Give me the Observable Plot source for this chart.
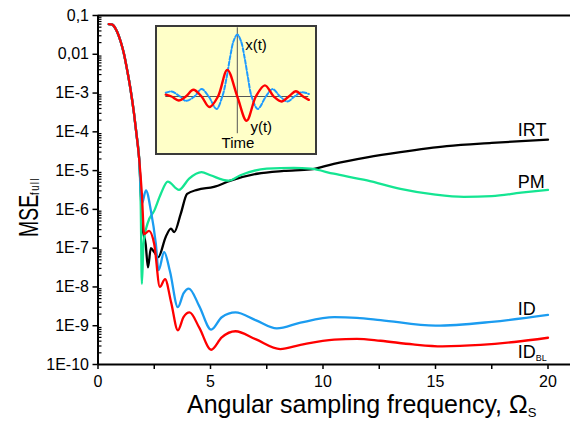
<!DOCTYPE html>
<html><head><meta charset="utf-8">
<script src="https://cdn.jsdelivr.net/npm/d3@7"></script>
<script src="https://cdn.jsdelivr.net/npm/@observablehq/plot@0.6"></script>
<style>
body{margin:0;background:#fff;}
#wrap{position:relative;width:570px;height:421px;font-family:"Liberation Sans",Arial,sans-serif;}
#inset{position:absolute;left:155px;top:25px;width:162px;height:130px;box-sizing:border-box;border:2px solid #3a3a3a;background:#ffffc8;}
#inset svg, #main svg{display:block;}
</style></head><body>
<div id="wrap"><div id="main"></div><div id="inset"></div></div>
<script>
// ---- Data (x: angular sampling frequency, y: MSE_full) ----
// steep common descent shared by all curves at low frequency
const commonX = [0.48, 0.60, 0.70, 0.85, 1.00, 1.15, 1.30, 1.45, 1.60, 1.72, 1.83];
const commonY = [6.0e-2, 5.9e-2, 5.4e-2, 3.8e-2, 2.2e-2, 1.05e-2, 3.8e-3, 1.2e-3, 3.0e-4, 7.9e-5, 2.0e-5];

const irtX = [1.98, 2.12, 2.22, 2.35, 2.50, 2.68, 3.01, 3.24, 3.39, 3.68, 3.96, 4.41, 5.15, 5.89, 7.07, 8.26, 9.44, 10.48, 11.96, 13.44, 15.5, 17.5, 20.0];
const irtY = [3.5e-7, 1.26e-7, 3.2e-8, 1.0e-7, 7.9e-8, 5.9e-8, 1.95e-7, 3.2e-7, 2.6e-7, 7.8e-7, 2.5e-6, 3.2e-6, 3.8e-6, 5.5e-6, 8.3e-6, 9.8e-6, 1.07e-5, 1.5e-5, 2.2e-5, 3.0e-5, 4.3e-5, 5.2e-5, 6.3e-5];

const pmX = [1.90, 1.95, 2.02, 2.20, 2.50, 2.79, 3.10, 3.60, 4.05, 4.60, 5.00, 5.80, 6.33, 7.50, 8.70, 9.44, 10.48, 11.96, 13.44, 15.0, 16.26, 17.5, 18.8, 20.0];
const pmY = [1.26e-6, 1.2e-8, 1.26e-7, 4.3e-7, 9.3e-7, 2.5e-6, 5.2e-6, 3.2e-6, 6.2e-6, 9.1e-6, 7.6e-6, 5.5e-6, 7.6e-6, 1.12e-5, 1.17e-5, 1.12e-5, 8.3e-6, 5.6e-6, 3.4e-6, 2.4e-6, 2.1e-6, 2.2e-6, 2.7e-6, 3.2e-6];

const idX = [1.95, 2.13, 2.35, 2.57, 2.69, 2.94, 3.20, 3.55, 3.80, 4.04, 4.50, 5.03, 5.50, 6.11, 7.00, 7.95, 9.00, 10.5, 11.5, 12.56, 15.0, 17.5, 20.0];
const idY = [1.4e-6, 3.1e-6, 9.3e-7, 1.3e-7, 2.7e-8, 7.9e-8, 2.5e-8, 3.0e-9, 6.8e-9, 9.1e-9, 3.2e-9, 7.9e-10, 1.66e-9, 2.2e-9, 1.4e-9, 8.5e-10, 1.2e-9, 1.66e-9, 1.6e-9, 1.4e-9, 1.0e-9, 1.26e-9, 1.9e-9];

const idblX = [1.95, 2.05, 2.27, 2.50, 2.75, 2.98, 3.25, 3.55, 3.80, 4.07, 4.50, 5.03, 5.50, 6.11, 7.00, 8.10, 9.00, 10.5, 11.5, 12.56, 14.0, 15.3, 17.0, 18.5, 20.0];
const idblY = [2.5e-6, 2.3e-7, 2.8e-7, 1.26e-7, 1.0e-8, 1.6e-8, 4.0e-9, 7.6e-10, 1.66e-9, 2.2e-9, 8.9e-10, 2.4e-10, 5.0e-10, 7.2e-10, 4.5e-10, 2.5e-10, 3.2e-10, 4.4e-10, 4.6e-10, 4.1e-10, 3.3e-10, 2.95e-10, 3.2e-10, 3.8e-10, 4.9e-10];

// series labels (placed at the right end of each curve)
const labelText = ["IRT", "PM", "ID", "ID"];
const labelX = [18.66, 18.66, 18.66, 18.66];
const labelY = [1.09e-4, 5.0e-6, 2.7e-9, 2.1e-10];
const subText = ["BL"];

// ticks
const xMajor = [0, 5, 10, 15, 20];
const xMinor = [2.5, 7.5, 12.5, 17.5];
const yTickValues = [1e-1, 1e-2, 1e-3, 1e-4, 1e-5, 1e-6, 1e-7, 1e-8, 1e-9, 1e-10];
const yTickLabels = ["0,1", "0,01", "1E-3", "1E-4", "1E-5", "1E-6", "1E-7", "1E-8", "1E-9", "1E-10"];

// inset sketch: x(t) (dashed blue) and y(t) (red), arbitrary units
const insetBlueT = [-5, -4.6, -4, -3.6, -3, -2.5, -2, -1.45, -1.05, -0.75, -0.5, -0.25, 0, 0.25, 0.5, 0.75, 1.0, 1.43, 2, 2.46, 3, 3.5, 4, 4.5, 5];
const insetBlueA = [0.06, 0.08, 0, -0.07, 0, 0.12, 0, -0.2, 0, 0.3, 0.64, 0.9, 1.0, 0.9, 0.64, 0.3, 0, -0.2, 0, 0.12, 0, -0.08, 0, 0.07, 0.04];
const insetRedT = [-5, -4.6, -4.1, -3.6, -3.07, -2.5, -1.95, -1.35, -0.7, 0, 0.65, 1.3, 1.93, 2.55, 3.09, 3.6, 4.1, 4.6, 5];
const insetRedA = [0.03, 0, -0.065, 0, 0.11, 0, -0.17, 0, 0.43, 0, -0.39, 0, 0.18, 0, -0.08, 0, 0.086, 0, -0.054];

// ---- build ----
const rows = (xs, ys) => xs.map((x, i) => ({x, y: ys[i]}));
const series = [
  {color: "#000000", data: rows(commonX.concat(irtX), commonY.concat(irtY))},
  {color: "#14e592", data: rows(commonX.concat(pmX), commonY.concat(pmY))},
  {color: "#1b9cf0", data: rows(commonX.concat(idX), commonY.concat(idY))},
  {color: "#ff0000", data: rows(commonX.concat(idblX), commonY.concat(idblY))}
];
const labels = labelText.map((t, i) => ({t, x: labelX[i], y: labelY[i]}));
const yLabelMap = new Map(yTickValues.map((v, i) => [v, yTickLabels[i]]));
const yMinor = [];
for (let e = -10; e <= -2; e++) for (let m = 2; m <= 9; m++) yMinor.push(m * Math.pow(10, e));

const main = Plot.plot({
  width: 570, height: 421,
  marginLeft: 97.5, marginRight: 0, marginTop: 15, marginBottom: 57,
  style: {fontFamily: '"Liberation Sans", Arial, sans-serif', fontSize: "16px", color: "#000", background: "transparent", overflow: "visible"},
  x: {domain: [0, 21]},
  y: {type: "log", domain: [1e-10, 1e-1]},
  marks: [
    ...series.map(s => Plot.line(s.data, {x: "x", y: "y", stroke: s.color, strokeWidth: 2.3, curve: "monotone-x"})),
    Plot.ruleX([0], {stroke: "#000", strokeWidth: 2}),
    Plot.ruleY([1e-10], {stroke: "#000", strokeWidth: 2}),
    Plot.ruleY([1e-1], {stroke: "#000", strokeWidth: 2}),
    Plot.axisX(xMajor, {tickSize: 5, tickPadding: 6, fontSize: 16, strokeWidth: 1.5, tickFormat: d => String(d), label: null}),
    Plot.axisX(xMinor, {tickSize: 5, strokeWidth: 1.5, tickFormat: () => "", label: null}),
    Plot.axisY(yTickValues, {tickSize: 5, tickPadding: 4, fontSize: 16, strokeWidth: 1.5, tickFormat: d => yLabelMap.get(d), label: null}),
    Plot.axisY(yMinor, {tickSize: 4, dx: 4, strokeWidth: 1.2, tickFormat: () => "", label: null}),
    Plot.text(labels, {x: "x", y: "y", text: "t", textAnchor: "start", lineAnchor: "middle", fontSize: 18, fill: "#000"}),
    Plot.text([labels[3]], {x: "x", y: "y", text: () => subText[0], textAnchor: "start", lineAnchor: "middle", fontSize: 9, dx: 18, dy: 6, fill: "#000"})
  ]
});
document.getElementById("main").appendChild(main);

const svg = d3.select(main);
const xt = svg.append("text").attr("x", 187).attr("y", 413).attr("font-size", 25).attr("text-anchor", "start").attr("fill", "#000");
xt.append("tspan").text("Angular sampling frequency, Ω");
xt.append("tspan").attr("font-size", 13).attr("dy", 4).text("S");

const yt = svg.append("text").attr("transform", "translate(38,237) rotate(-90) scale(0.72,1)").attr("font-size", 27).attr("text-anchor", "start").attr("fill", "#000");
yt.append("tspan").text("MSE");
yt.append("tspan").attr("font-size", 13).attr("dy", 1).attr("letter-spacing", 2).text("full");

// ---- inset ----
const inset = Plot.plot({
  width: 158, height: 126,
  marginTop: 0, marginBottom: 0, marginLeft: 8.3, marginRight: 6.7,
  style: {fontFamily: '"Liberation Sans", Arial, sans-serif', background: "transparent", overflow: "visible"},
  x: {domain: [-5, 5], axis: null},
  y: {domain: [-0.919, 1.113], axis: null},
  marks: [
    Plot.ruleY([0], {x1: -5, x2: 5, stroke: "#555", strokeWidth: 1}),
    Plot.ruleX([0], {y1: -0.6, y2: 1.108, stroke: "#555", strokeWidth: 1}),
    Plot.line(rows(insetBlueT, insetBlueA), {x: "x", y: "y", stroke: "#1e9bff", strokeWidth: 2, strokeDasharray: "4,2", curve: "catmull-rom"}),
    Plot.line(rows(insetRedT, insetRedA), {x: "x", y: "y", stroke: "#ff0000", strokeWidth: 2.4, curve: "catmull-rom"}),
    Plot.text([{x: 0.55, y: 0.82, t: "x(t)"}, {x: 0.92, y: -0.5, t: "y(t)"}], {x: "x", y: "y", text: "t", textAnchor: "start", lineAnchor: "middle", fontSize: 15, fill: "#000"}),
    Plot.text([{x: 0.05, y: -0.76, t: "Time"}], {x: "x", y: "y", text: "t", textAnchor: "middle", lineAnchor: "middle", fontSize: 15, fill: "#000"})
  ]
});
document.getElementById("inset").appendChild(inset);
</script>
</body></html>
